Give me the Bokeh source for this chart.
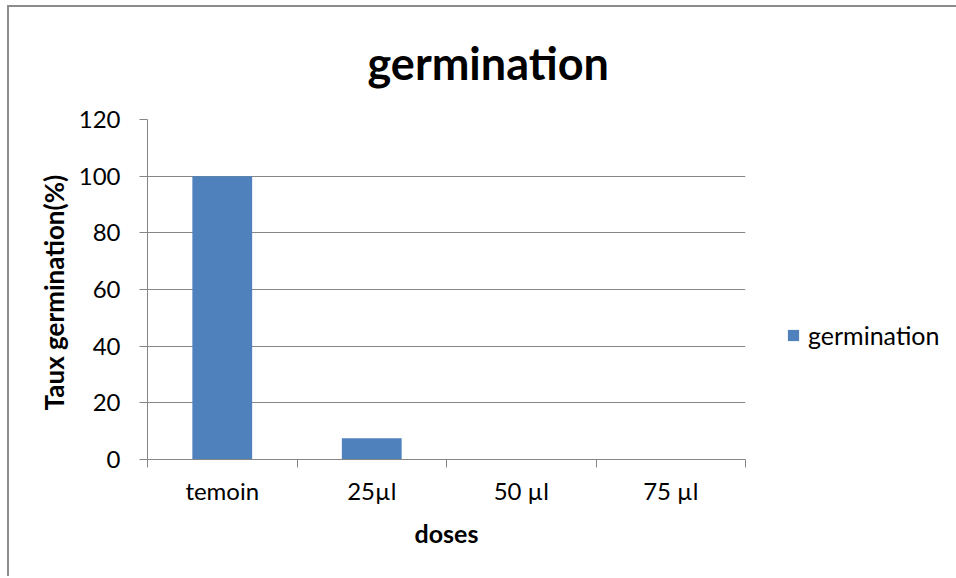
from bokeh.plotting import figure
from bokeh.models import (ColumnDataSource, FactorRange, Range1d, FixedTicker, LinearAxis,
                          CategoricalAxis, Legend, LegendItem, Title)
from bokeh.embed import file_html
from bokeh.resources import INLINE

categories = ["temoin", "25µl", "50 µl", "75 µl"]
germination = [100, 7.5, 0, 0]
y_ticks = [0, 20, 40, 60, 80, 100, 120]

FONT = "Lato"
GRAY = "#868686"
BLUE = "#4F81BD"

src = ColumnDataSource(dict(x=categories, y=germination))

p = figure(x_range=FactorRange(*categories, range_padding=0), y_range=Range1d(0, 120),
           frame_width=598, frame_height=340,
           min_border_left=138, min_border_top=112, min_border_right=210, min_border_bottom=117,
           output_backend="svg", toolbar_location=None,
           x_axis_location=None, y_axis_location=None, title=None)
p.styles = {"border-top": "2px solid #8c8c8c", "border-left": "2px solid #8c8c8c",
            "margin-left": "7px", "margin-top": "5px"}
p.outline_line_color = None
p.background_fill_color = "white"
p.border_fill_color = "white"

r = p.vbar(x="x", top="y", width=0.4, source=src, fill_color=BLUE, line_color=None)

# y axis
yax = LinearAxis(ticker=FixedTicker(ticks=y_ticks, minor_ticks=[]))
yax.axis_line_color = GRAY
yax.major_tick_line_color = GRAY
yax.major_tick_out = 8
yax.major_tick_in = 0
yax.minor_tick_line_color = None
yax.major_label_text_font = FONT
yax.major_label_text_font_size = "24px"
yax.major_label_text_color = "black"
yax.major_label_standoff = 19
yax.axis_label = "Taux  germination(%)"
yax.axis_label_text_font = FONT
yax.axis_label_text_font_style = "bold"
yax.axis_label_text_font_size = "26px"
yax.axis_label_text_color = "black"
yax.axis_label_standoff = 6
p.add_layout(yax, "left")

p.xgrid.grid_line_color = None
p.ygrid.grid_line_color = GRAY
p.ygrid.ticker = yax.ticker

# x tick marks at category boundaries (synthetic coordinates of the factor range)
edge_ax = LinearAxis(ticker=FixedTicker(ticks=list(range(len(categories) + 1)), minor_ticks=[]))
edge_ax.axis_line_color = GRAY
edge_ax.major_tick_line_color = GRAY
edge_ax.major_tick_out = 8
edge_ax.major_tick_in = 0
edge_ax.minor_tick_line_color = None
edge_ax.major_label_text_font_size = "0px"
edge_ax.major_label_standoff = 0
p.add_layout(edge_ax, "below")

# category labels
cax = CategoricalAxis()
cax.axis_line_color = None
cax.major_tick_line_color = None
cax.minor_tick_line_color = None
cax.major_label_text_font = FONT
cax.major_label_text_font_size = "24px"
cax.major_label_text_color = "black"
cax.major_label_standoff = 2
cax.axis_label = "doses"
cax.axis_label_text_font = FONT
cax.axis_label_text_font_style = "bold"
cax.axis_label_text_font_size = "25px"
cax.axis_label_text_color = "black"
cax.axis_label_standoff = 10
p.add_layout(cax, "below")

# title
t = Title(text="germination", align="left", vertical_align="top", text_font=FONT,
          text_font_style="bold", text_font_size="45px", text_color="black",
          offset=220, standoff=56)
p.add_layout(t, "above")

# legend
leg = Legend(items=[LegendItem(label="germination", renderers=[r])],
             location=(41, 109), padding=0, margin=0, border_line_color=None,
             background_fill_alpha=0, glyph_width=14, glyph_height=14,
             label_text_font=FONT, label_text_font_size="25px", label_text_color="black",
             label_standoff=8, label_height=20)
p.add_layout(leg, "right")

open("out.html", "w").write(file_html(p, INLINE))
